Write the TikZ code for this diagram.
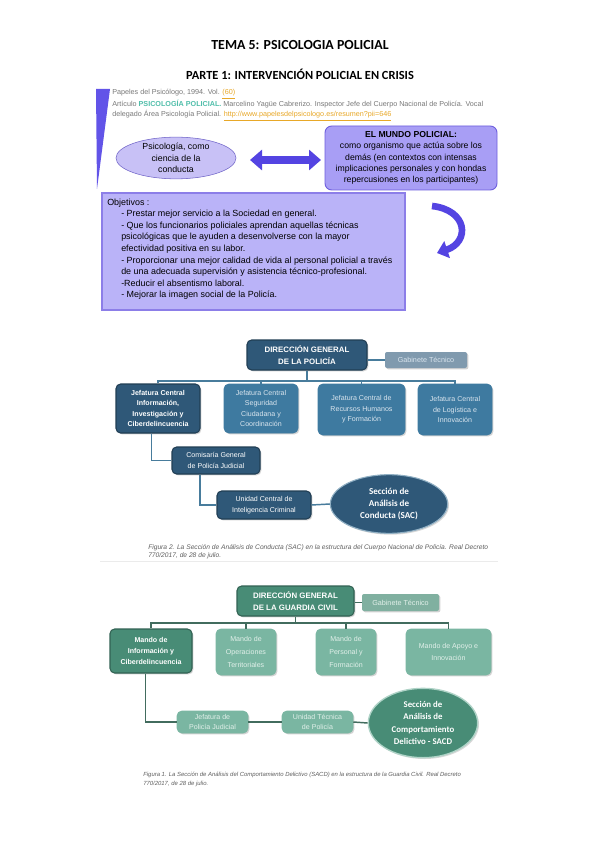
\documentclass[tikz,border=0pt]{standalone}
\usepackage{fontspec}
\setmainfont{Liberation Sans}
\newfontfamily\calib{Carlito}
\usetikzlibrary{shapes.geometric,arrows.meta,shadows}
\definecolor{barpurple}{RGB}{98,84,232}
\definecolor{citegray}{RGB}{120,120,120}
\definecolor{citeteal}{RGB}{80,190,170}
\definecolor{linkor}{RGB}{232,168,40}
\definecolor{ellfill}{RGB}{200,193,246}
\definecolor{ellborder}{RGB}{112,100,200}
\definecolor{boxfill}{RGB}{168,158,245}
\definecolor{boxborder}{RGB}{110,95,222}
\definecolor{objfill}{RGB}{186,179,248}
\definecolor{objborder}{RGB}{140,126,232}
\definecolor{arrowblue}{RGB}{84,68,226}
\definecolor{bdark}{RGB}{47,88,120}
\definecolor{bmid}{RGB}{62,122,160}
\definecolor{bgab}{RGB}{128,154,174}
\definecolor{bline}{RGB}{72,124,156}
\definecolor{btext}{RGB}{218,229,238}
\definecolor{gdark}{RGB}{72,140,118}
\definecolor{gmid}{RGB}{122,182,162}
\definecolor{ggab}{RGB}{128,176,160}
\definecolor{gline}{RGB}{66,108,94}
\definecolor{gtext}{RGB}{226,240,234}
\definecolor{capgray}{RGB}{95,95,95}
\tikzset{
  rect/.style 2 args={minimum width=#1*0.75pt, minimum height=#2*0.75pt},
  orgbox/.style={rounded corners=3.5pt, inner sep=0pt, align=center,
    drop shadow={opacity=0.35, shadow xshift=1pt, shadow yshift=-1pt}},
  bA/.style={orgbox, fill=bdark, draw=bdark!70!black, line width=0.8pt, text=white,
    font=\bfseries\fontsize{5.3}{7.9}\selectfont},
  bB/.style={orgbox, fill=bmid, draw=bmid, text=btext, font=\fontsize{5.3}{7.9}\selectfont},
  gA/.style={orgbox, fill=gdark, draw=gdark!70!black, line width=0.8pt, text=white,
    font=\bfseries\fontsize{5.3}{8.6}\selectfont},
  gB/.style={orgbox, fill=gmid, draw=gmid, text=gtext, font=\fontsize{5.3}{9.6}\selectfont},
  bconn/.style={draw=bline, line width=1.1pt},
  gconn/.style={draw=gline, line width=1.1pt},
  caption/.style={anchor=north west, inner sep=0pt, align=left, text=capgray,
    font=\itshape\fontsize{5}{6.6}\selectfont},
}
\begin{document}
\begin{tikzpicture}[x=0.75pt,y=-0.75pt]
\useasboundingbox[fill=white] (0,0) rectangle (599,848);

% titles
\node[font=\calib\bfseries\fontsize{10.4}{12}\selectfont, inner sep=0] (t1) at (300,45) {TEMA 5: PSICOLOGIA POLICIAL};
\node[font=\calib\bfseries\fontsize{9.3}{11}\selectfont, inner sep=0] (t2) at (300,74) {PARTE 1: INTERVENCIÓN POLICIAL EN CRISIS};

% citation
\fill[barpurple] (96,89) -- (110,89) -- (97,189) -- cycle;
\node[anchor=north west, align=left, inner sep=0, text=citegray,
  font=\fontsize{5.4}{7.9}\selectfont] (cite) at (112,89)
  {Papeles del Psicólogo, 1994. Vol. \textcolor{linkor}{\underline{(60)}}\\
   Artículo \textcolor{citeteal}{\textbf{PSICOLOGÍA POLICIAL.}} Marcelino Yagüe Cabrerizo. Inspector Jefe del Cuerpo Nacional de Policía. Vocal\\
   delegado Área Psicología Policial. \textcolor{linkor}{\underline{http://www.papelesdelpsicologo.es/resumen?pii=646}}};

% psicologia ellipse & mundo policial
\node[ellipse, draw=ellborder, fill=ellfill, minimum width=90pt, minimum height=30pt,
  inner sep=0, align=center, font=\fontsize{6.6}{8.6}\selectfont] (psi) at (176,158)
  {Psicología, como\\ciencia de la\\conducta};
\node[draw=boxborder, fill=boxfill, rounded corners=5pt, line width=0.7pt,
  rect={172}{64}, inner sep=0, align=center,
  font=\fontsize{6.5}{8.5}\selectfont] (mundo) at (411,158)
  {\textbf{EL MUNDO POLICIAL:}\\como organismo que actúa sobre los\\demás (en contextos con intensas\\implicaciones personales y con hondas\\repercusiones en los participantes)};
\coordinate (dA) at (250,160);
\coordinate (dB) at (321,160);
\draw[arrowblue, line width=6pt, {Triangle[width=15pt,length=9pt]}-{Triangle[width=15pt,length=9pt]}] (dA) -- (dB);

% objetivos
\node[draw=objborder, fill=objfill, line width=0.8pt, rect={303}{117}, inner sep=0] (obj) at (253.5,251.5) {};
\node[anchor=north west, inner sep=0, font=\fontsize{6.7}{8.7}\selectfont] (objt) at (107,199) {Objetivos :};
\node[anchor=north west, inner sep=0, align=left, font=\fontsize{6.7}{8.7}\selectfont] (objl) at (121,210)
  {- Prestar mejor servicio a la Sociedad en general.\\
   - Que los funcionarios policiales aprendan aquellas técnicas\\
   psicológicas que le ayuden a desenvolverse con la mayor\\
   efectividad positiva en su labor.\\
   - Proporcionar una mejor calidad de vida al personal policial a través\\
   de una adecuada supervisión y asistencia técnico-profesional.\\
   -Reducir el absentismo laboral.\\
   - Mejorar la imagen social de la Policía.};
\coordinate (cA) at (432,206);
\coordinate (cB) at (437,253);
\draw[arrowblue, line width=5pt, -{Triangle[width=13pt,length=8pt]}] (cA) .. controls (468,210) and (470,242) .. (cB);

% ===== org chart 1: Policia =====
\node[bA, rect={120}{30}, font=\bfseries\fontsize{5.9}{9}\selectfont] (dgp) at (307,355) {DIRECCIÓN GENERAL\\DE LA POLICÍA};
\node[orgbox, rounded corners=1.5pt, fill=bgab, text=btext, rect={82}{16}, font=\fontsize{5.4}{6}\selectfont] (gabp) at (426,360) {Gabinete Técnico};
\node[bA, rect={84}{49}] (pb1) at (158,408.5) {Jefatura Central\\Información,\\Investigación y\\Ciberdelincuencia};
\node[bB, rect={74}{49}] (pb2) at (261,408.5) {Jefatura Central\\Seguridad\\Ciudadana y\\Coordinación};
\node[bB, rect={87}{51}] (pb3) at (361.5,409.5) {Jefatura Central de\\Recursos Humanos\\y Formación};
\node[bB, rect={74}{51}] (pb4) at (455,409.5) {Jefatura Central\\de Logística e\\Innovación};
\node[bA, rect={88}{27}, font=\fontsize{5.3}{7.9}\selectfont] (pcom) at (216,460.5) {Comisaría General\\de Policía Judicial};
\node[bA, rect={94}{28}, font=\fontsize{5.3}{7.9}\selectfont] (puni) at (264,505) {Unidad Central de\\Inteligencia Criminal};
\node[ellipse, fill=bdark, draw=bline!60!white, line width=0.8pt, minimum width=88pt, minimum height=44pt,
  inner sep=0, align=center, text=white, font=\calib\bfseries\fontsize{6.8}{9.2}\selectfont,
  drop shadow={opacity=0.3, shadow xshift=1pt, shadow yshift=-1pt}] (sac) at (389,504)
  {Sección de\\Análisis de\\Conducta (SAC)};
\coordinate (pbus) at (0,381);
\draw[bconn] (gabp.west) -- (gabp.west -| dgp.east);
\draw[bconn] (dgp.south) -- (dgp.south |- pbus);
\draw[bconn] (pb1.north) -- (pb1.north |- pbus) -- (pb4.north |- pbus) -- (pb4.north);
\draw[bconn] (pb2.north) -- (pb2.north |- pbus);
\draw[bconn] (pb3.north) -- (pb3.north |- pbus);
\draw[bconn] ([xshift=-5pt]pb1.south) |- (pcom.west);
\draw[bconn] ([xshift=-12pt]pcom.south) |- (puni.west);
\draw[bconn] (puni.east) -- (sac.west);
\node[caption] (cap1) at (148,544) {Figura 2. La Sección de Análisis de Conducta (SAC) en la estructura del Cuerpo Nacional de Policía. Real Decreto\\770/2017, de 28 de julio.};
\coordinate (hl1) at (100,561);
\coordinate (hl2) at (498,561);
\draw[black!8, line width=0.5pt] (hl1) -- (hl2);

% ===== org chart 2: Guardia Civil =====
\node[gA, rect={117}{30}, font=\bfseries\fontsize{5.9}{9}\selectfont] (dgg) at (295.5,601) {DIRECCIÓN GENERAL\\DE LA GUARDIA CIVIL};
\node[orgbox, rounded corners=1.5pt, fill=ggab, text=gtext, rect={77}{17}, font=\fontsize{5.4}{6}\selectfont] (gabg) at (400.5,602.5) {Gabinete Técnico};
\node[gA, rect={82}{44}] (gb1) at (151,651) {Mando de\\Información y\\Ciberdelincuencia};
\node[gB, rect={60}{46}] (gb2) at (246,652) {Mando de\\Operaciones\\Territoriales};
\node[gB, rect={60}{46}] (gb3) at (346,652) {Mando de\\Personal y\\Formación};
\node[gB, rect={85}{46}] (gb4) at (448.5,652) {Mando de Apoyo e\\Innovación};
\node[gB, rect={71}{22}, font=\fontsize{5.3}{7.9}\selectfont] (gjef) at (212.5,722) {Jefatura de\\Policía Judicial};
\node[gB, rect={71}{22}, font=\fontsize{5.3}{7.9}\selectfont] (guni) at (317.5,722) {Unidad Técnica\\de Policía};
\node[ellipse, fill=gdark, draw=gmid!60!white, line width=1pt, minimum width=82pt, minimum height=52pt,
  inner sep=0, align=center, text=white, font=\calib\bfseries\fontsize{6.6}{9.2}\selectfont,
  drop shadow={opacity=0.3, shadow xshift=1pt, shadow yshift=-1pt}] (sacd) at (423,723)
  {Sección de\\Análisis de\\Comportamiento\\Delictivo - SACD};
\coordinate (gbus) at (0,623);
\draw[gconn] (gabg.west) -- (gabg.west -| dgg.east);
\draw[gconn] (dgg.south) -- (dgg.south |- gbus);
\draw[gconn] (gb1.north) -- (gb1.north |- gbus) -- (gb4.north |- gbus) -- (gb4.north);
\draw[gconn] (gb2.north) -- (gb2.north |- gbus);
\draw[gconn] (gb3.north) -- (gb3.north |- gbus);
\draw[gconn] ([xshift=-4pt]gb1.south) |- (gjef.west);
\draw[gconn] (gjef.east) -- (guni.west);
\draw[gconn] (guni.east) -- (sacd.west);
\node[caption, font=\itshape\fontsize{4.45}{6.6}\selectfont] (cap2) at (143,772) {Figura 1. La Sección de Análisis del Comportamiento Delictivo (SACD) en la estructura de la Guardia Civil. Real Decreto\\770/2017, de 28 de julio.};
\end{tikzpicture}
\end{document}
